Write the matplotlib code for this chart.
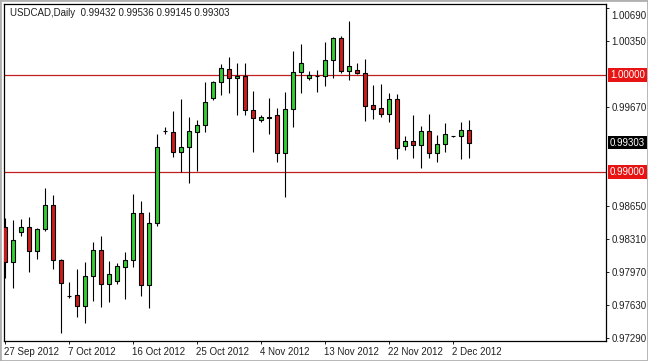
import matplotlib
matplotlib.use("Agg")
import matplotlib.pyplot as plt
import matplotlib.transforms as mtransforms
import matplotlib.patches as patches

plt.rcParams['font.family'] = ['Liberation Sans', 'DejaVu Sans']
plt.rcParams['font.size'] = 7

# daily USDCAD bars, 27 Sep 2012 - 4 Dec 2012 (Sunday bars included)
opens = [0.98433, 0.98072, 0.98381, 0.98433, 0.98186, 0.98412, 0.98660, 0.98093, 0.97722, 0.97732,
         0.97619, 0.97928, 0.98196, 0.97845, 0.97876, 0.98021, 0.98093, 0.98577, 0.97835, 0.98474,
         0.99423, 0.99412, 0.99206, 0.99258, 0.99412, 0.99485, 0.99763, 0.99928, 1.00062, 0.99969,
         0.99990, 0.99639, 0.99536, 0.99567, 0.99588, 0.99196, 0.99649, 1.00031, 0.99969, 0.99990,
         0.99990, 1.00155, 1.00381, 1.00041, 1.00052, 1.00021, 0.99691, 0.99660, 0.99598, 0.99753,
         0.99268, 0.99320, 0.99278, 0.99423, 0.99196, 0.99289, 0.99371, 0.99371, 0.99432]
highs = [0.98526, 0.98505, 0.98515, 0.98536, 0.98423, 0.98835, 0.98763, 0.98103, 0.97866, 0.98000,
         0.98072, 0.98278, 0.98340, 0.98082, 0.98062, 0.98175, 0.98773, 0.98701, 0.98588, 0.99392,
         0.99464, 0.99629, 0.99753, 0.99567, 0.99536, 0.99928, 0.99938, 1.00113, 1.00186, 1.00124,
         1.00124, 0.99835, 0.99588, 0.99763, 0.99660, 0.99825, 1.00247, 1.00320, 1.00041, 1.00052,
         1.00340, 1.00392, 1.00402, 1.00557, 1.00124, 1.00165, 0.99897, 0.99907, 0.99814, 0.99804,
         0.99371, 0.99588, 0.99474, 0.99598, 0.99381, 0.99505, 0.99376, 0.99515, 0.99536]
lows = [0.97907, 0.97804, 0.98340, 0.97969, 0.98103, 0.98392, 0.98000, 0.97340, 0.97701, 0.97505,
        0.97443, 0.97670, 0.97608, 0.97660, 0.97845, 0.97691, 0.98021, 0.97722, 0.97598, 0.98443,
        0.99392, 0.99155, 0.99000, 0.98887, 0.99010, 0.99412, 0.99742, 0.99794, 0.99814, 0.99588,
        0.99588, 0.99206, 0.99515, 0.99392, 0.99103, 0.98742, 0.99464, 0.99814, 0.99948, 0.99825,
        0.99887, 0.99969, 1.00021, 0.99948, 1.00010, 0.99526, 0.99546, 0.99567, 0.99515, 0.99134,
        0.99227, 0.99144, 0.99041, 0.99144, 0.99103, 0.99206, 0.99366, 0.99134, 0.99145]
closes = [0.98072, 0.98299, 0.98433, 0.98186, 0.98412, 0.98660, 0.98093, 0.97856, 0.97722, 0.97619,
          0.97928, 0.98196, 0.97845, 0.97948, 0.98031, 0.98093, 0.98577, 0.97835, 0.98474, 0.99258,
          0.99423, 0.99206, 0.99258, 0.99423, 0.99485, 0.99722, 0.99928, 1.00072, 0.99969, 0.99990,
          0.99639, 0.99557, 0.99567, 0.99557, 0.99196, 0.99649, 1.00031, 1.00124, 1.00000, 0.99990,
          1.00155, 1.00381, 1.00041, 1.00093, 1.00021, 0.99680, 0.99649, 0.99598, 0.99753, 0.99247,
          0.99320, 0.99278, 0.99423, 0.99196, 0.99289, 0.99392, 0.99371, 0.99433, 0.99303]

date_ticks = [0, 8, 16, 24, 32, 40, 48, 56]
date_labels = ["27 Sep 2012", "7 Oct 2012", "16 Oct 2012", "25 Oct 2012",
               "4 Nov 2012", "13 Nov 2012", "22 Nov 2012", "2 Dec 2012"]
price_ticks = [1.00690, 1.00350, 0.99670, 0.98650, 0.98310, 0.97970, 0.97630, 0.97290]
levels = [1.00000, 0.99000]
last_price = 0.99303

fig = plt.figure(figsize=(6.48, 3.61), dpi=100, facecolor='white')
ax = fig.add_axes([4 / 648, 20 / 361, 602 / 648, 337 / 361])

up_col = '#32cd32'
down_col = '#cc1c1c'
x = list(range(len(opens)))
body_bottom = [min(o, c) for o, c in zip(opens, closes)]
body_height = [abs(c - o) for o, c in zip(opens, closes)]
colors = [up_col if c >= o else down_col for o, c in zip(opens, closes)]

ax.vlines(x, lows, highs, color='black', linewidth=0.8, zorder=2)
ax.bar(x, body_height, bottom=body_bottom, width=0.6, color=colors,
       edgecolor='black', linewidth=0.8, zorder=3)

for lv in levels:
    ax.axhline(lv, color='#c02020', linewidth=0.9, zorder=1)

ax.set_xlim(-0.125, 75.125)
ax.set_ylim(0.97258, 1.00732)

# right price scale
ax.yaxis.tick_right()
ax.set_yticks(price_ticks)
ax.set_yticklabels([f"{p:.5f}" for p in price_ticks])
ax.tick_params(axis='y', direction='out', length=2.5, width=0.7, pad=1.5, colors='#202020')
top_lbl = ax.get_yticklabels()[0]
top_lbl.set_transform(top_lbl.get_transform() +
                      mtransforms.ScaledTranslation(0, -6.5 / 100, fig.dpi_scale_trans))

# bottom dates
ax.set_xticks(date_ticks)
ax.set_xticklabels(date_labels, ha='left')
ax.tick_params(axis='x', direction='out', length=2.5, width=0.7, pad=2, colors='#202020')
for lbl in ax.get_xticklabels():
    lbl.set_transform(lbl.get_transform() +
                      mtransforms.ScaledTranslation(-1 / 100, 0, fig.dpi_scale_trans))

for s in ax.spines.values():
    s.set_color('black')
    s.set_linewidth(0.9)

# level labels on the price scale
for lv in levels:
    ax.annotate(f"{lv:.5f}", xy=(1, lv), xycoords=('axes fraction', 'data'),
                xytext=(4, 0), textcoords='offset pixels', va='center', ha='left',
                color='white', bbox=dict(boxstyle='square,pad=0.18', fc='#e81414', ec='none'))
ax.annotate(f"{last_price:.5f}", xy=(1, last_price), xycoords=('axes fraction', 'data'),
            xytext=(4, 0), textcoords='offset pixels', va='center', ha='left',
            color='white', bbox=dict(boxstyle='square,pad=0.18', fc='black', ec='none'))

ax.annotate("USDCAD,Daily  %.5f %.5f %.5f %.5f" % (opens[-1], highs[-1], lows[-1], closes[-1]),
            xy=(0, 1), xycoords='axes fraction', xytext=(6, -9), textcoords='offset pixels',
            va='center', ha='left', color='#202020')

fig.patches.append(patches.Rectangle((0, 0), 1, 1, transform=fig.transFigure,
                                     fill=False, edgecolor='#b0b0b0', linewidth=2))

fig.savefig("out.png", dpi=100, facecolor='white')
